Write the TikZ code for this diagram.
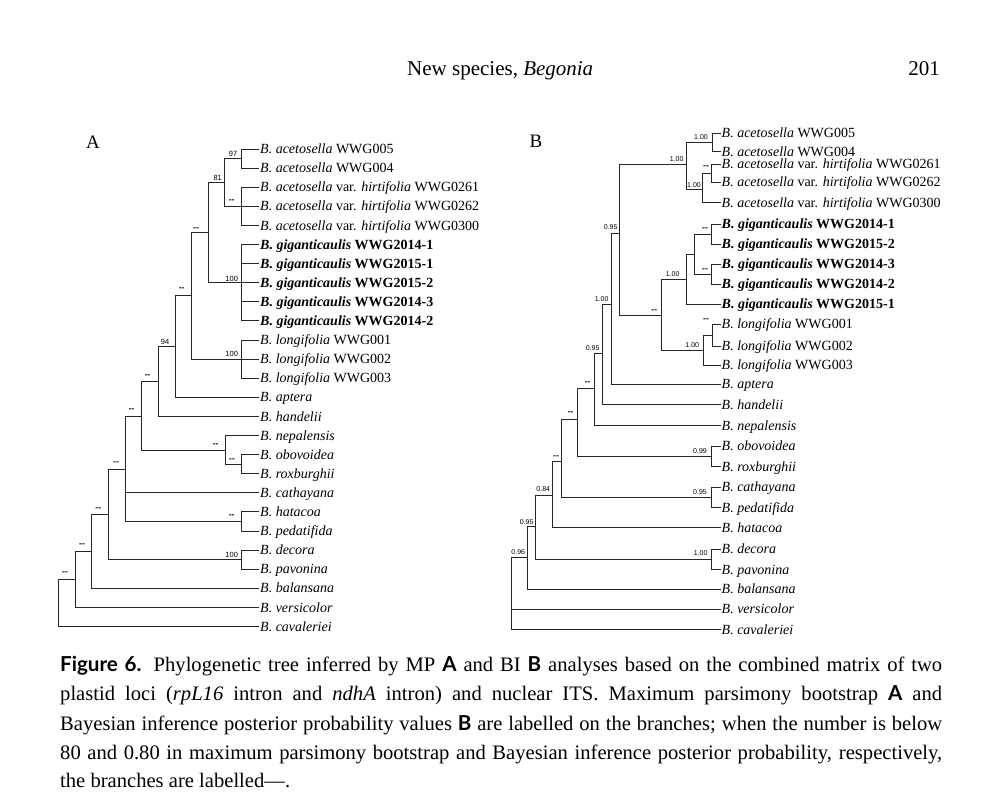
\documentclass[tikz,border=0pt]{standalone}
\usepackage{fontspec}
\setmainfont{Liberation Serif}
\newfontfamily\suppfont{Liberation Sans}
\newfontfamily\capsans{Lato}
\newcommand{\cs}[1]{{\capsans\bfseries #1}}
\newcommand{\gig}[1]{\textbf{\textit{B. giganticaulis} #1}}
\newcommand{\hir}[1]{\textit{B. acetosella} var. \textit{hirtifolia} #1}
\newcommand{\dsh}{{\bfseries\fontsize{8.5}{9}\selectfont -{}-}}
\begin{document}
\begin{tikzpicture}[x=1pt,y=-1pt,
  br/.style={line width=1pt, draw=black!85, line cap=rect},
  taxon/.style={anchor=base west, inner sep=0pt, font=\fontsize{14}{16}\selectfont},
  suppA/.style={anchor=center, inner sep=0pt, font=\suppfont\fontsize{7.5}{8}\selectfont},
  suppB/.style={anchor=center, inner sep=0pt, font=\suppfont\fontsize{7}{8}\selectfont},
  panel/.style={anchor=center, inner sep=0pt, font=\fontsize{19}{20}\selectfont},
  capline/.style={anchor=base west, inner sep=0pt, font=\fontsize{20.6}{24}\selectfont}]
\useasboundingbox (0,0) rectangle (984,796);
\fill[white] (0,0) rectangle (984,796);

% header
\node[anchor=base west, inner sep=0pt, font=\fontsize{21}{24}\selectfont] (hdr) at (407,75) {New species, \textit{Begonia}};
\node[anchor=base east, inner sep=0pt, font=\fontsize{21}{24}\selectfont] (pg) at (940,75) {201};

% panel letters
\node[panel] (labA) at (93,142.7) {A};
\node[panel] (labB) at (536,141.7) {B};

% ================= Tree A =================
\foreach \i/\y/\t in {
 1/149.0/{\textit{B. acetosella} WWG005},
 2/168.1/{\textit{B. acetosella} WWG004},
 3/187.2/{\hir{WWG0261}},
 4/206.3/{\hir{WWG0262}},
 5/225.4/{\hir{WWG0300}},
 6/244.5/{\gig{WWG2014-1}},
 7/263.6/{\gig{WWG2015-1}},
 8/282.7/{\gig{WWG2015-2}},
 9/301.8/{\gig{WWG2014-3}},
 10/320.9/{\gig{WWG2014-2}},
 11/340.0/{\textit{B. longifolia} WWG001},
 12/359.1/{\textit{B. longifolia} WWG002},
 13/378.2/{\textit{B. longifolia} WWG003},
 14/397.3/{\textit{B. aptera}},
 15/416.4/{\textit{B. handelii}},
 16/435.5/{\textit{B. nepalensis}},
 17/454.6/{\textit{B. obovoidea}},
 18/473.7/{\textit{B. roxburghii}},
 19/492.8/{\textit{B. cathayana}},
 20/511.9/{\textit{B. hatacoa}},
 21/531.0/{\textit{B. pedatifida}},
 22/550.1/{\textit{B. decora}},
 23/569.2/{\textit{B. pavonina}},
 24/588.3/{\textit{B. balansana}},
 25/607.4/{\textit{B. versicolor}},
 26/626.5/{\textit{B. cavaleriei}}}
{
  \coordinate (lA\i) at (258,\y);
  \node[taxon] (nA\i) at (260,\y+4.6) {\t};
}

\coordinate (a97) at (241.7,158.5);
\coordinate (ah) at (241.7,206.3);
\coordinate (a81) at (224.7,182.4);
\coordinate (ag) at (241.7,282.7);
\coordinate (a1) at (208,232.5);
\coordinate (al) at (241.7,359.1);
\coordinate (a2) at (191.7,295.8);
\coordinate (a94) at (175,346.5);
\coordinate (a3) at (158.3,381.5);
\coordinate (ar) at (241,464.2);
\coordinate (an) at (225,450);
\coordinate (a4) at (141.7,416);
\coordinate (aht) at (241,521.5);
\coordinate (a5) at (125,469);
\coordinate (ad) at (241,559.6);
\coordinate (a6) at (108.3,514.5);
\coordinate (a7) at (91.7,551.4);
\coordinate (a8) at (75,579.4);
\coordinate (aroot) at (58.3,603);

\foreach \p/\c in {a97/lA1,a97/lA2, ah/lA3,ah/lA4,ah/lA5, a81/a97,a81/ah,
  ag/lA6,ag/lA7,ag/lA8,ag/lA9,ag/lA10, a1/a81,a1/ag,
  al/lA11,al/lA12,al/lA13, a2/a1,a2/al, a94/a2,a94/lA14, a3/a94,a3/lA15,
  ar/lA17,ar/lA18, an/lA16,an/ar, a4/a3,a4/an,
  aht/lA20,aht/lA21, a5/a4,a5/lA19,a5/aht,
  ad/lA22,ad/lA23, a6/a5,a6/ad, a7/a6,a7/lA24, a8/a7,a8/lA25, aroot/a8,aroot/lA26}
  \draw[br] (\p) |- (\c);

\node[suppA] (sa97) at (233,154) {97};
\node[suppA] (sah) at (231.7,201) {\dsh};
\node[suppA] (sa81) at (217.7,178) {81};
\node[suppA] (sag) at (231.7,279) {100};
\node[suppA] (sa1) at (196,229) {\dsh};
\node[suppA] (sal) at (231.7,354) {100};
\node[suppA] (sa2) at (181.7,289) {\dsh};
\node[suppA] (sa94) at (165,342) {94};
\node[suppA] (sa3) at (147.7,376) {\dsh};
\node[suppA] (san) at (215.7,445) {\dsh};
\node[suppA] (sar) at (232,460) {\dsh};
\node[suppA] (sa4) at (131.7,410) {\dsh};
\node[suppA] (sa5) at (116,463) {\dsh};
\node[suppA] (saht) at (231.7,516) {\dsh};
\node[suppA] (sa6) at (98.3,509) {\dsh};
\node[suppA] (sad) at (231.7,555) {100};
\node[suppA] (sa7) at (82,545) {\dsh};
\node[suppA] (sa8) at (65,573) {\dsh};

% ================= Tree B =================
\foreach \i/\y/\t in {
 1/133.3/{\textit{B. acetosella} WWG005},
 2/151.5/{\textit{B. acetosella} WWG004},
 3/164.0/{\hir{WWG0261}},
 4/182.0/{\hir{WWG0262}},
 5/202.7/{\hir{WWG0300}},
 6/224.0/{\gig{WWG2014-1}},
 7/244.0/{\gig{WWG2015-2}},
 8/264.0/{\gig{WWG2014-3}},
 9/284.0/{\gig{WWG2014-2}},
 10/304.3/{\gig{WWG2015-1}},
 11/324.0/{\textit{B. longifolia} WWG001},
 12/346.0/{\textit{B. longifolia} WWG002},
 13/365.0/{\textit{B. longifolia} WWG003},
 14/384.3/{\textit{B. aptera}},
 15/404.5/{\textit{B. handelii}},
 16/425.7/{\textit{B. nepalensis}},
 17/446.0/{\textit{B. obovoidea}},
 18/466.5/{\textit{B. roxburghii}},
 19/487.3/{\textit{B. cathayana}},
 20/507.7/{\textit{B. pedatifida}},
 21/527.7/{\textit{B. hatacoa}},
 22/549.0/{\textit{B. decora}},
 23/569.5/{\textit{B. pavonina}},
 24/589.0/{\textit{B. balansana}},
 25/609.3/{\textit{B. versicolor}},
 26/629.5/{\textit{B. cavaleriei}}}
{
  \coordinate (lB\i) at (720,\y);
  \node[taxon] (nB\i) at (721.5,\y+4.6) {\t};
}

\coordinate (bA1) at (712.5,142.5);
\coordinate (bH1) at (711,173);
\coordinate (bH) at (702.7,189);
\coordinate (bAc) at (686.7,164);
\coordinate (bG1) at (711,234);
\coordinate (bG2) at (711,274);
\coordinate (bG3) at (694,254);
\coordinate (bG) at (686.7,279.3);
\coordinate (bL1) at (712,335);
\coordinate (bL) at (703.3,350.5);
\coordinate (bGL) at (661,315);
\coordinate (bN95) at (619.3,233.3);
\coordinate (bN100) at (611,304.3);
\coordinate (bN95b) at (602.7,353.3);
\coordinate (bNd1) at (594.3,388.3);
\coordinate (bO) at (711,456);
\coordinate (bNd2) at (577.7,419);
\coordinate (bC) at (711,497.5);
\coordinate (bNd3) at (561,461.7);
\coordinate (bN84) at (552.7,495);
\coordinate (bD) at (711,559);
\coordinate (bN95c) at (535.7,526.7);
\coordinate (bN96) at (527.7,557.7);
\coordinate (bRoot) at (511,593);

\foreach \p/\c in {bA1/lB1,bA1/lB2, bH1/lB3,bH1/lB4, bH/bH1,bH/lB5, bAc/bA1,bAc/bH,
  bG1/lB6,bG1/lB7, bG2/lB8,bG2/lB9, bG3/bG1,bG3/bG2, bG/bG3,bG/lB10,
  bL1/lB11,bL1/lB12, bL/bL1,bL/lB13, bGL/bG,bGL/bL, bN95/bAc,bN95/bGL,
  bN100/bN95,bN100/lB14, bN95b/bN100,bN95b/lB15, bNd1/bN95b,bNd1/lB16,
  bO/lB17,bO/lB18, bNd2/bNd1,bNd2/bO, bC/lB19,bC/lB20, bNd3/bNd2,bNd3/bC,
  bN84/bNd3,bN84/lB21, bD/lB22,bD/lB23, bN95c/bN84,bN95c/bD,
  bN96/bN95c,bN96/lB24, bRoot/bN96,bRoot/lB25,bRoot/lB26}
  \draw[br] (\p) |- (\c);

\node[suppB] (sbA1) at (701,137.3) {1.00};
\node[suppB] (sbH1) at (706,167.3) {\dsh};
\node[suppB] (sbH) at (694,185) {1.00};
\node[suppB] (sbAc) at (676.7,158.7) {1.00};
\node[suppB] (sbG1) at (705,228.7) {\dsh};
\node[suppB] (sbG2) at (705,270) {\dsh};
\node[suppB] (sbG) at (672.7,274) {1.00};
\node[suppB] (sbL1) at (706,320) {\dsh};
\node[suppB] (sbL) at (692.3,345) {1.00};
\node[suppB] (sbGL) at (654.3,310.7) {\dsh};
\node[suppB] (sbN95) at (610.7,227.3) {0.95};
\node[suppB] (sbN100) at (601.7,299) {1.00};
\node[suppB] (sbN95b) at (592.7,348.3) {0.95};
\node[suppB] (sbNd1) at (587.7,383.3) {\dsh};
\node[suppB] (sbO) at (700,451.3) {0.99};
\node[suppB] (sbNd2) at (570.7,413.3) {\dsh};
\node[suppB] (sbC) at (700,491.7) {0.95};
\node[suppB] (sbNd3) at (556,457.3) {\dsh};
\node[suppB] (sbN84) at (543.3,489.3) {0.84};
\node[suppB] (sbD) at (700.7,552.7) {1.00};
\node[suppB] (sbN95c) at (526.7,522.3) {0.95};
\node[suppB] (sbN96) at (518.3,551.7) {0.96};

% ================= Caption =================
\node[capline] (cap1) at (60,671.7) {\makebox[882pt][s]{\cs{Figure 6.} Phylogenetic tree inferred by MP \cs{A} and BI \cs{B} analyses based on the combined matrix of two}};
\node[capline] (cap2) at (60,700.9) {\makebox[882pt][s]{plastid loci (\textit{rpL16} intron and \textit{ndhA} intron) and nuclear ITS. Maximum parsimony bootstrap \cs{A} and}};
\node[capline] (cap3) at (60,730.1) {\makebox[882pt][s]{Bayesian inference posterior probability values \cs{B} are labelled on the branches; when the number is below}};
\node[capline] (cap4) at (60,759.3) {\makebox[882pt][s]{80 and 0.80 in maximum parsimony bootstrap and Bayesian inference posterior probability, respectively,}};
\node[capline] (cap5) at (60,787.5) {the branches are labelled—.};
\end{tikzpicture}
\end{document}
